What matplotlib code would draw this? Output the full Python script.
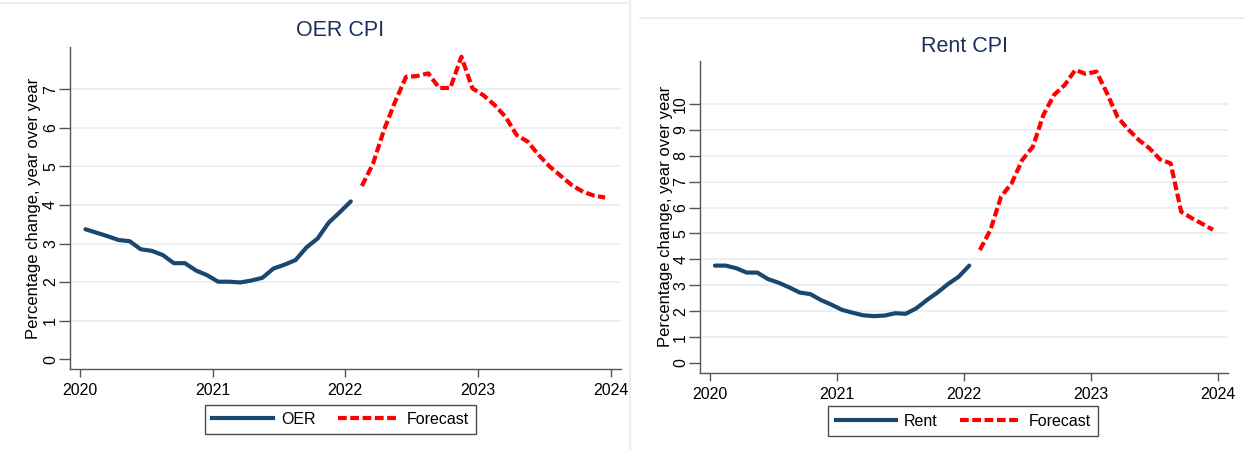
import numpy as np
import pandas as pd
import matplotlib
matplotlib.use("Agg")
import matplotlib.pyplot as plt
from matplotlib.lines import Line2D

plt.rcParams['font.family'] = ['Liberation Sans', 'DejaVu Sans']

# ---------------- data ----------------
months = pd.date_range("2020-01-01", periods=48, freq="MS")
n_actual = 25  # Jan 2020 - Jan 2022 actual, Feb 2022 - Dec 2023 forecast

oer_actual = [3.37, 3.28, 3.19, 3.09, 3.06, 2.85, 2.81, 2.70, 2.49, 2.49,
              2.30, 2.18, 2.01, 2.01, 1.99, 2.04, 2.11, 2.35, 2.45, 2.57,
              2.90, 3.13, 3.54, 3.81, 4.09]
oer_forecast = [4.49, 5.06, 5.94, 6.67, 7.32, 7.34, 7.41, 7.03, 7.03, 7.84,
                7.02, 6.84, 6.59, 6.28, 5.81, 5.64, 5.29, 4.99, 4.75, 4.51,
                4.34, 4.24, 4.19]

rent_actual = [3.76, 3.76, 3.66, 3.49, 3.49, 3.24, 3.10, 2.92, 2.72, 2.66,
               2.43, 2.25, 2.05, 1.94, 1.84, 1.81, 1.83, 1.92, 1.90, 2.11,
               2.43, 2.72, 3.05, 3.33, 3.76]
rent_forecast = [4.36, 5.14, 6.42, 6.94, 7.84, 8.35, 9.58, 10.35, 10.73, 11.31,
                 11.16, 11.25, 10.41, 9.49, 9.02, 8.61, 8.29, 7.86, 7.71, 5.84,
                 5.59, 5.37, 5.14]

x_ticks = [2020, 2021, 2022, 2023, 2024]
oer_yticks = list(range(0, 8))
rent_yticks = list(range(0, 11))

titles = ["OER CPI", "Rent CPI"]
ylabel = "Percentage change, year over year"
legend_labels = [["OER", "Forecast"], ["Rent", "Forecast"]]

# decimal-year positions (mid-month)
xdec = months.year + (months.month - 0.5) / 12.0
x_act = np.asarray(xdec[:n_actual])
x_fc = np.asarray(xdec[n_actual:])

# ---------------- style ----------------
NAVY = "#1a476f"
RED = "#ff0000"
GRID = "#e6eef1"
SPINE = "#555555"
TITLE = "#1f2f5c"

W, H = 1245, 450
fig = plt.figure(figsize=(W / 100, H / 100), dpi=100)
fig.patch.set_facecolor("white")


def fx(px):
    return px / W


def fy(py):
    return 1 - py / H


panels = [
    dict(rect=(69.8, 46.7, 621, 369.3), ylim=(-0.26, 8.10), yt=oer_yticks,
         act=oer_actual, fc=oer_forecast, title_xy=(340, 30.8),
         leg_xy=(340.7, 419.3), labels=legend_labels[0], title=titles[0]),
    dict(rect=(700, 60.7, 1228.2, 372.7), ylim=(-0.375, 11.67), yt=rent_yticks,
         act=rent_actual, fc=rent_forecast, title_xy=(964.5, 46.7),
         leg_xy=(963.4, 421), labels=legend_labels[1], title=titles[1]),
]

for p in panels:
    l, t, r, b = p["rect"]
    ax = fig.add_axes([fx(l), fy(b), fx(r) - fx(l), fy(t) - fy(b)])
    ax.set_xlim(2019.924, 2024.078)
    ax.set_ylim(*p["ylim"])
    for yv in p["yt"][1:]:
        ax.axhline(yv, color=GRID, lw=1.2, zorder=0)
    ax.plot(x_act, p["act"], color=NAVY, lw=3.0, solid_capstyle="round",
            solid_joinstyle="round", zorder=3)
    ax.plot(x_fc, p["fc"], color=RED, lw=3.0, dashes=(2.1, 0.85),
            dash_capstyle="butt", dash_joinstyle="round", zorder=3)
    ax.set_xticks(x_ticks)
    ax.set_yticks(p["yt"])
    ax.tick_params(axis="x", length=6, width=1, color=SPINE, labelsize=11.5,
                   pad=4)
    ax.tick_params(axis="y", length=8, width=1, color=SPINE, labelsize=11.5,
                   pad=0.5)
    for lab in ax.get_yticklabels():
        lab.set_rotation(90)
        lab.set_va("center")
    for s in ["top", "right"]:
        ax.spines[s].set_visible(False)
    for s in ["left", "bottom"]:
        ax.spines[s].set_color(SPINE)
        ax.spines[s].set_linewidth(1.0)
    ax.set_ylabel(ylabel, fontsize=12)
    ax.yaxis.set_label_coords(-0.052, 0.5)
    fig.text(fx(p["title_xy"][0]), fy(p["title_xy"][1]), p["title"],
             fontsize=15.5, color=TITLE, ha="center", va="center")
    handles = [Line2D([], [], color=NAVY, lw=3.0),
               Line2D([], [], color=RED, lw=3.0, dashes=(2.1, 0.85))]
    leg = fig.legend(handles, p["labels"], loc="center",
                     bbox_to_anchor=(fx(p["leg_xy"][0]), fy(p["leg_xy"][1])),
                     ncol=2, fontsize=11.5, frameon=True, fancybox=False,
                     handlelength=3.8, handletextpad=0.5, columnspacing=1.4,
                     borderpad=0.45, borderaxespad=0)
    leg.get_frame().set_edgecolor("#222222")
    leg.get_frame().set_linewidth(1.0)

# panel borders
BORDER = "#e8eef1"
fig.add_artist(Line2D([fx(630), fx(630)], [fy(0), fy(450)], color=BORDER, lw=1.5))
fig.add_artist(Line2D([fx(0), fx(630)], [fy(2.7), fy(2.7)], color=BORDER, lw=1.5))
fig.add_artist(Line2D([fx(640), fx(1245)], [fy(18.3), fy(18.3)], color=BORDER, lw=1.5))

fig.savefig("out.png", dpi=100, facecolor="white")
